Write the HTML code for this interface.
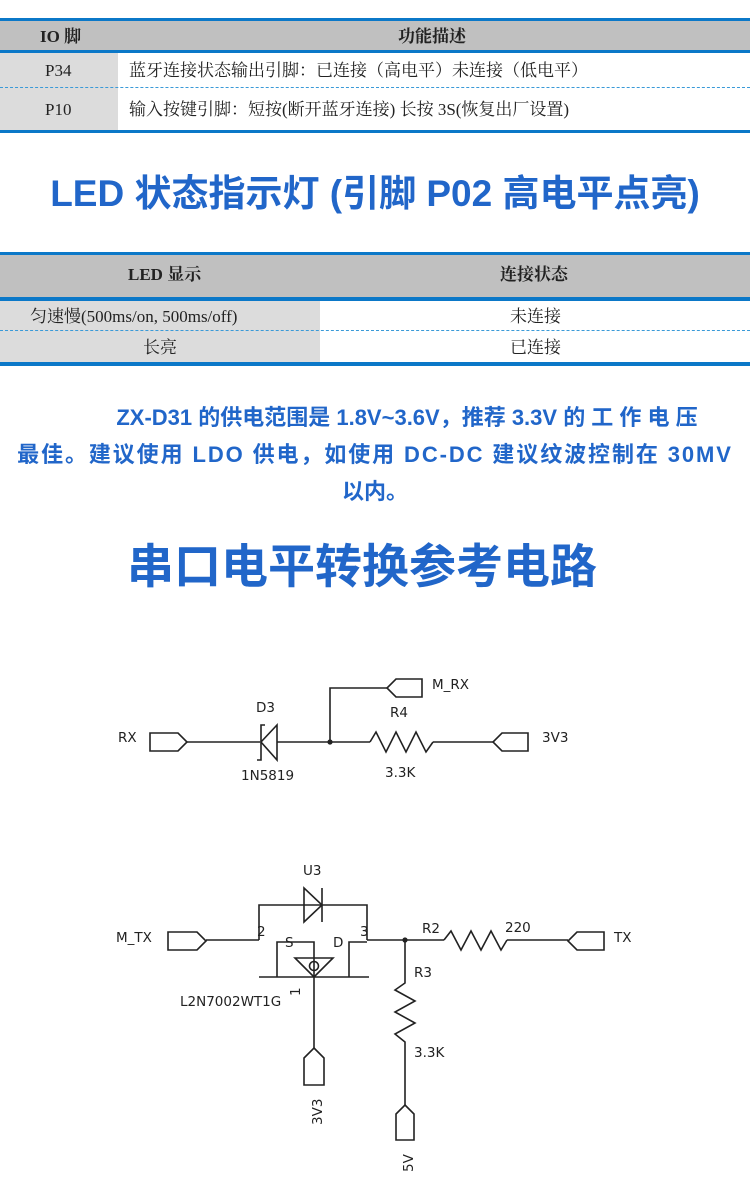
<!DOCTYPE html>
<html><head><meta charset="utf-8"><style>
body{margin:0;width:750px;height:1186px;background:#fff;position:relative;overflow:hidden;font-family:"Liberation Serif","Noto Serif CJK SC",serif;}
.a{position:absolute;}
.bl{background:#0b78c8;}
.gh{background:#c0c0c0;}
.gl{background:#dcdcdc;}
.t{position:absolute;white-space:nowrap;font-size:17px;color:#222;line-height:20px;}
.b{font-weight:bold;}
.dot{position:absolute;height:0;border-top:1.5px dashed #3a9ad8;}
.ttl{position:absolute;left:0;width:750px;text-align:center;color:#2166c9;font-family:"Liberation Sans","Noto Sans CJK SC",sans-serif;font-weight:bold;white-space:nowrap;}
svg text{font-family:"DejaVu Sans","Liberation Sans",sans-serif;font-size:13.5px;fill:#222;}
</style></head><body>
<!-- table 1 -->
<div class="a bl" style="left:0;top:18px;width:750px;height:3px"></div>
<div class="a gh" style="left:0;top:21px;width:750px;height:29px"></div>
<div class="a bl" style="left:0;top:50px;width:750px;height:3px"></div>
<div class="a gl" style="left:0;top:53px;width:118px;height:77px"></div>
<div class="dot" style="left:0;top:87px;width:750px"></div>
<div class="a bl" style="left:0;top:130px;width:750px;height:3px"></div>
<div class="t b" style="left:40px;top:27px">IO 脚</div>
<div class="t b" style="left:398px;top:27px">功能描述</div>
<div class="t" style="left:45px;top:61px">P34</div>
<div class="t" style="left:129px;top:61px">蓝牙连接状态输出引脚：已连接（高电平）未连接（低电平）</div>
<div class="t" style="left:45px;top:100px">P10</div>
<div class="t" style="left:129px;top:100px">输入按键引脚：短按(断开蓝牙连接) 长按 3S(恢复出厂设置)</div>

<div class="ttl" style="top:172px;font-size:37px;line-height:44px">LED 状态指示灯 (引脚 P02 高电平点亮)</div>

<!-- table 2 -->
<div class="a bl" style="left:0;top:252px;width:750px;height:3px"></div>
<div class="a gh" style="left:0;top:255px;width:750px;height:42px"></div>
<div class="a bl" style="left:0;top:297px;width:750px;height:4px"></div>
<div class="a gl" style="left:0;top:301px;width:320px;height:61px"></div>
<div class="dot" style="left:0;top:330px;width:750px"></div>
<div class="a bl" style="left:0;top:362px;width:750px;height:4px"></div>
<div class="t b" style="left:128px;top:265px">LED 显示</div>
<div class="t b" style="left:500px;top:265px">连接状态</div>
<div class="t" style="left:30px;top:307px">匀速慢(500ms/on, 500ms/off)</div>
<div class="t" style="left:510px;top:307px">未连接</div>
<div class="t" style="left:143px;top:338px">长亮</div>
<div class="t" style="left:510px;top:338px">已连接</div>

<div class="ttl" style="top:403px;left:32px;font-size:22px;line-height:30px">ZX-D31 的供电范围是 1.8V~3.6V，推荐 3.3V 的 工 作 电 压</div>
<div class="ttl" style="top:440px;font-size:22px;line-height:30px;letter-spacing:1.9px">最佳。建议使用 LDO 供电，如使用 DC-DC 建议纹波控制在 30MV</div>
<div class="ttl" style="top:477px;font-size:22px;line-height:30px">以内。</div>
<div class="ttl" style="top:539px;left:-13px;font-size:47px;line-height:56px">串口电平转换参考电路</div>

<svg class="a" style="left:0;top:0" width="750" height="1186" fill="none" stroke="#222" stroke-width="1.6">
<!-- circuit 1 -->
<text x="118" y="742" stroke="none">RX</text>
<polygon points="150,733 178,733 187,742 178,751 150,751"/>
<line x1="187" y1="742" x2="260" y2="742"/>
<polygon points="277,725 277,760 261,742"/>
<polyline points="265,725 261,725 261,760 257,760"/>
<line x1="277" y1="742" x2="330" y2="742"/>
<circle cx="330" cy="742" r="1.8" fill="#222"/>
<polyline points="330,742 330,688 387,688"/>
<polygon points="422,679 396,679 387,688 396,697 422,697"/>
<text x="432" y="689" stroke="none">M_RX</text>
<text x="390" y="717" stroke="none">R4</text>
<line x1="330" y1="742" x2="370" y2="742"/>
<polyline points="370,742 376,732 386,752 396,732 406,752 416,732 426,752 433,742"/>
<line x1="433" y1="742" x2="493" y2="742"/>
<polygon points="528,733 502,733 493,742 502,751 528,751"/>
<text x="542" y="742" stroke="none">3V3</text>
<text x="385" y="777" stroke="none">3.3K</text>
<text x="256" y="712" stroke="none">D3</text>
<text x="241" y="780" stroke="none">1N5819</text>

<!-- circuit 2 -->
<text x="116" y="942" stroke="none">M_TX</text>
<polygon points="168,932 197,932 206,941 197,950 168,950"/>
<line x1="206" y1="940" x2="259" y2="940"/>
<text x="257" y="936" stroke="none">2</text>
<polyline points="259,940 259,905 367,905 367,940"/>
<polygon points="304,888 304,922 322,905"/>
<line x1="322" y1="888" x2="322" y2="922"/>
<text x="303" y="875" stroke="none">U3</text>
<polyline points="277,977 277,942 314,942 314,1048"/>
<text x="285" y="947" stroke="none">S</text>
<text x="333" y="947" stroke="none">D</text>
<polyline points="349,977 349,942 367,942"/>
<text x="360" y="936" stroke="none">3</text>
<line x1="259" y1="977" x2="369" y2="977"/>
<polygon points="295,958 333,958 314,977"/>
<circle cx="314" cy="966" r="4.5"/>
<line x1="367" y1="940" x2="444" y2="940"/>
<circle cx="405" cy="940" r="1.8" fill="#222"/>
<text x="422" y="933" stroke="none">R2</text>
<polyline points="444,940 451,931 461,950 471,931 481,950 491,931 501,950 507,940"/>
<text x="505" y="932" stroke="none">220</text>
<line x1="507" y1="940" x2="568" y2="940"/>
<polygon points="604,932 577,932 568,941 577,950 604,950"/>
<text x="614" y="942" stroke="none">TX</text>
<text x="180" y="1006" stroke="none">L2N7002WT1G</text>
<text transform="translate(300,996) rotate(-90)" stroke="none">1</text>
<polygon points="314,1048 324,1058 324,1085 304,1085 304,1058"/>
<text transform="translate(322,1125) rotate(-90)" stroke="none">3V3</text>
<polyline points="405,940 405,983 395,990 415,1001 395,1012 415,1023 395,1034 405,1042 405,1105"/>
<text x="414" y="977" stroke="none">R3</text>
<text x="414" y="1057" stroke="none">3.3K</text>
<polygon points="405,1105 414,1114 414,1140 396,1140 396,1114"/>
<text transform="translate(413,1172) rotate(-90)" stroke="none">5V</text>
</svg>
</body></html>
